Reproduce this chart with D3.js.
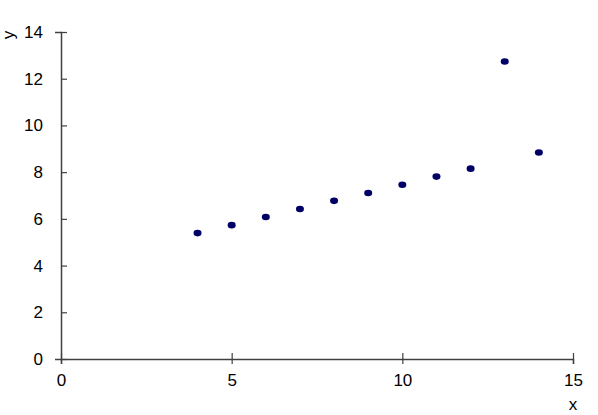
<!DOCTYPE html>
<html>
<head>
<meta charset="utf-8">
<script src="https://cdn.jsdelivr.net/npm/d3@7"></script>
<style>
  body { margin: 0; background: #fff; }
  text { font-family: "Liberation Sans", Arial, sans-serif; }
</style>
</head>
<body>
<script>
// data
var xVals = [10, 8, 13, 9, 11, 14, 6, 4, 12, 7, 5];
var yVals = [7.46, 6.77, 12.74, 7.11, 7.81, 8.84, 6.08, 5.39, 8.15, 6.42, 5.73];
var xTicks = [0, 5, 10, 15];
var yTicks = [0, 2, 4, 6, 8, 10, 12, 14];

var width = 598, height = 415;

var svg = d3.select('body').append('svg')
  .attr('width', width)
  .attr('height', height);

var x = d3.scaleLinear().domain([0, 15]).range([61, 573]);
var y = d3.scaleLinear().domain([0, 14]).range([359, 32]);

var axisColor = '#404040';

// x axis
var xAxis = svg.append('g').attr('transform', 'translate(0,359)')
  .call(d3.axisBottom(x).tickValues(xTicks).tickSize(5).tickPadding(10).tickFormat(d3.format('d')));
xAxis.select('.domain').attr('stroke', axisColor).attr('stroke-width', 1.5);
xAxis.selectAll('.tick line').attr('stroke', axisColor).attr('stroke-width', 1.2).attr('y1', -6);
xAxis.selectAll('.tick text').attr('font-size', 17).attr('fill', '#000')
  .attr('font-family', '"Liberation Sans", Arial, sans-serif');

// y axis
var yAxis = svg.append('g').attr('transform', 'translate(61,0)')
  .call(d3.axisLeft(y).tickValues(yTicks).tickSize(6).tickPadding(12).tickFormat(d3.format('d')));
yAxis.select('.domain').attr('stroke', axisColor).attr('stroke-width', 1.5);
yAxis.selectAll('.tick line').attr('stroke', axisColor).attr('stroke-width', 1.2).attr('x2', 6);
yAxis.selectAll('.tick text').attr('font-size', 17).attr('fill', '#000')
  .attr('font-family', '"Liberation Sans", Arial, sans-serif');

// axis titles
svg.append('text')
  .attr('x', 573).attr('y', 410)
  .attr('text-anchor', 'middle')
  .attr('font-size', 17)
  .text('x');

svg.append('text')
  .attr('transform', 'translate(14,35) rotate(-90)')
  .attr('text-anchor', 'middle')
  .attr('font-size', 17)
  .text('y');

// points
svg.selectAll('ellipse')
  .data(xVals)
  .enter()
  .append('ellipse')
    .attr('cx', (d) => x(d))
    .attr('cy', (d, i) => y(yVals[i]))
    .attr('rx', 4)
    .attr('ry', 3.3)
    .attr('fill', '#000066');
</script>
</body>
</html>
